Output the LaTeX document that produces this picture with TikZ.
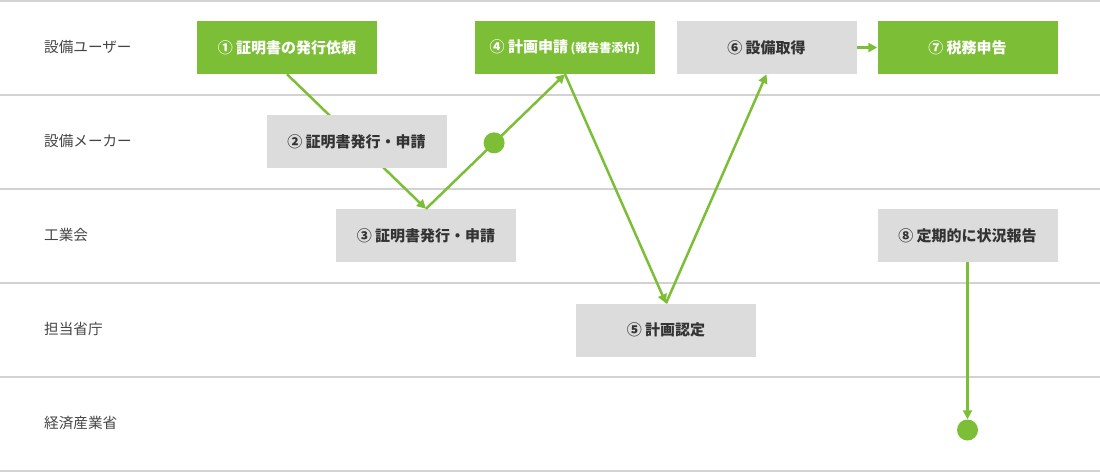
\documentclass[tikz,border=0pt]{standalone}
\usepackage{fontspec}
\newfontfamily\jp{Noto Sans CJK JP}
\usetikzlibrary{arrows.meta}
\pgfdeclarelayer{bg}
\pgfsetlayers{bg,main}
\definecolor{grn}{HTML}{7DBE37}
\definecolor{gbox}{HTML}{DCDCDC}
\definecolor{lanec}{HTML}{D2D2D2}
\definecolor{txt}{HTML}{333333}
\definecolor{lbl}{HTML}{444444}
\tikzset{
  box/.style={minimum width=180pt,minimum height=53pt,inner sep=0pt,font=\jp\bfseries\fontsize{15}{18}\selectfont},
  greenbox/.style={box,fill=grn,text=white},
  greybox/.style={box,fill=gbox,text=txt},
  lane/.style={draw=lanec,line width=2pt},
  lanelabel/.style={anchor=west,inner sep=0pt,text=lbl,font=\jp\fontsize{14.6}{16}\selectfont},
  flow/.style={draw=grn,line width=2.5pt,-{Triangle[length=9pt,width=9pt]}},
  dot/.style={circle,fill=grn,minimum size=21pt,inner sep=0pt}
}
\begin{document}
\begin{tikzpicture}[x=1pt,y=-1pt]
\useasboundingbox (0,0) rectangle (1100,472);
% lanes
\begin{pgfonlayer}{bg}
\foreach \yy in {1,95,189,283,377,471}{\draw[lane] (0,\yy) -- (1100,\yy);}
\end{pgfonlayer}
\node[lanelabel] (l1) at (44,47) {設備ユーザー};
\node[lanelabel] (l2) at (44,141) {設備メーカー};
\node[lanelabel] (l3) at (44,235) {工業会};
\node[lanelabel] (l4) at (44,329) {担当省庁};
\node[lanelabel] (l5) at (44,423) {経済産業省};
% boxes
\node[greenbox] (b1) at (287,47.5) {① 証明書の発行依頼};
\node[greybox] (b2) at (356.5,141.5) {② 証明書発行・申請};
\node[greybox] (b3) at (426,235.5) {③ 証明書発行・申請};
\node[greenbox] (b4) at (565,47.5) {④ 計画申請\,{\fontsize{12}{14}\selectfont (報告書添付)}};
\node[greybox] (b5) at (666,330) {⑤ 計画認定};
\node[greybox] (b6) at (766.5,47.5) {⑥ 設備取得};
\node[greenbox] (b7) at (967.5,47.5) {⑦ 税務申告};
\node[greybox] (b8) at (967.5,235.5) {⑧ 定期的に状況報告};
\node[dot] (d2) at (967.5,430) {};
% connectors
\begin{pgfonlayer}{bg}
\draw[flow] (b1.south) -- (b3.north);
\end{pgfonlayer}
\draw[flow] (b3.north) -- node[dot,pos=0.49] (d1) {} (b4.south);
\draw[flow] (b4.south) -- (b5.north);
\draw[flow] (b5.north) -- (b6.south);
\draw[flow] (b6.east) -- (b7.west);
\draw[flow] (b8.south) -- (d2.north);
\end{tikzpicture}
\end{document}
